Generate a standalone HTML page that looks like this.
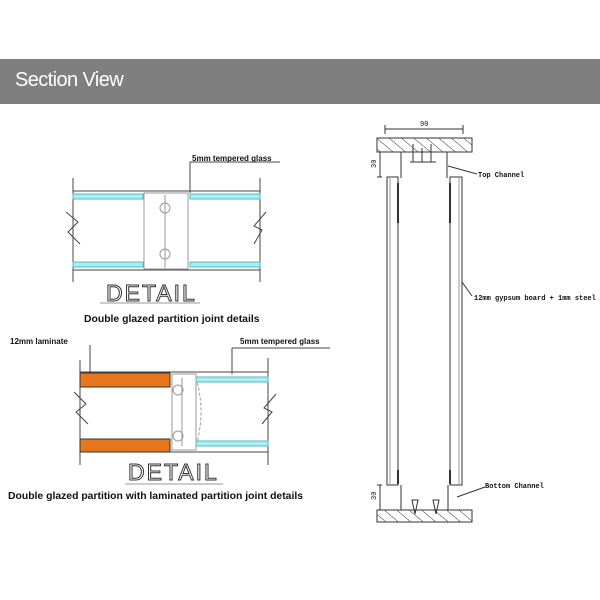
<!DOCTYPE html>
<html><head><meta charset="utf-8"><style>
html,body{margin:0;padding:0;background:#fff;width:600px;height:600px;overflow:hidden;position:relative;font-family:"Liberation Sans",sans-serif}
.band{position:absolute;left:0;top:59px;width:600px;height:45px;background:#7f7f7f}
.band span{position:absolute;left:15px;top:10px;color:#fff;font-size:20px;letter-spacing:-0.6px}
svg{position:absolute;left:0;top:0}
</style></head><body>
<div class="band"><span>Section View</span></div>
<svg width="600" height="600" viewBox="0 0 600 600">
<defs>
<pattern id="h" width="8" height="8" patternUnits="userSpaceOnUse" patternTransform="rotate(-50)">
<line x1="0" y1="0" x2="0" y2="8" stroke="#333" stroke-width="1"/></pattern>
</defs>
<g stroke="#444" fill="none" stroke-width="1">
<line x1="73" y1="178" x2="73" y2="282"/><line x1="260" y1="178" x2="260" y2="282"/>
<line x1="73" y1="191" x2="260" y2="191"/><line x1="73" y1="270" x2="260" y2="270"/>
<path d="M66 212 L78 222 L68 232 L80 244"/><path d="M266 212 L254 226 L262 230 L254 244"/>
<line x1="190" y1="162" x2="190" y2="193"/><line x1="190" y1="162" x2="280" y2="162"/>
<rect x="144" y="193" width="44" height="76" stroke="#999"/>
<line x1="165" y1="195" x2="165" y2="268" stroke="#999"/>
<circle cx="165" cy="208" r="5" stroke="#999"/><circle cx="165" cy="254" r="5" stroke="#999"/>
<line x1="80" y1="360" x2="80" y2="465"/><line x1="268" y1="358" x2="268" y2="465"/>
<line x1="80" y1="372" x2="268" y2="372"/><line x1="80" y1="452" x2="268" y2="452"/>
<path d="M74 392 L86 404 L76 412 L88 424"/><path d="M276 394 L264 408 L272 412 L262 424"/>
<line x1="90" y1="345" x2="90" y2="372"/><line x1="232" y1="348" x2="232" y2="374"/><line x1="232" y1="348" x2="330" y2="348"/>
<rect x="172" y="374" width="24" height="76" stroke="#999"/>
<line x1="182" y1="378" x2="182" y2="446" stroke="#999"/>
<circle cx="178" cy="390" r="5" stroke="#999"/><circle cx="178" cy="436" r="5" stroke="#999"/>
<path d="M196 378 Q206 412 196 446" stroke="#999" stroke-dasharray="3 2"/>
</g>
<g fill="#a8eef4" stroke="#5bb">
<rect x="73" y="194" width="70" height="5"/><rect x="190" y="194" width="70" height="5"/>
<rect x="73" y="262" width="70" height="5"/><rect x="190" y="262" width="70" height="5"/>
<rect x="196" y="377" width="72" height="5"/><rect x="196" y="441" width="72" height="5"/>
</g>
<g fill="#e8761c" stroke="#333">
<rect x="80" y="373" width="90" height="14"/><rect x="80" y="439" width="90" height="13"/>
</g>
<g font-family="Liberation Sans,sans-serif" font-weight="bold" fill="#111">
<text x="192" y="161" font-size="8">5mm tempered glass</text>
<text x="106" y="301" font-size="23" fill="#fff" stroke="#333" stroke-width="1" font-weight="normal" letter-spacing="2">DETAIL</text>
<text x="84" y="322" font-size="10.4">Double glazed partition joint details</text>
<text x="10" y="344" font-size="8">12mm laminate</text>
<text x="240" y="344" font-size="8">5mm tempered glass</text>
<text x="128" y="480" font-size="23" fill="#fff" stroke="#333" stroke-width="1" font-weight="normal" letter-spacing="2">DETAIL</text>
<text x="8" y="499" font-size="10.4">Double glazed partition with laminated partition joint details</text>
</g>
<line x1="100" y1="303" x2="200" y2="303" stroke="#999"/>
<line x1="125" y1="484" x2="223" y2="484" stroke="#999"/>
<g stroke="#333" fill="none" stroke-width="1">
<line x1="385" y1="129" x2="463" y2="129"/><line x1="385" y1="125" x2="385" y2="134"/><line x1="463" y1="125" x2="463" y2="134"/>
<rect x="377" y="138" width="95" height="14" fill="url(#h)"/>
<rect x="377" y="510" width="95" height="12" fill="url(#h)"/>
<line x1="401" y1="152" x2="401" y2="178"/><line x1="447" y1="152" x2="447" y2="178"/>
<line x1="401" y1="485" x2="401" y2="510"/><line x1="448" y1="485" x2="448" y2="510"/>
<rect x="387" y="177" width="11" height="308"/><rect x="450" y="177" width="12" height="308"/>
<line x1="390" y1="178" x2="390" y2="484" stroke="#999"/><line x1="459" y1="178" x2="459" y2="484" stroke="#999"/>
<line x1="380" y1="152" x2="380" y2="177"/><line x1="377" y1="152" x2="382" y2="152"/><line x1="377" y1="177" x2="382" y2="177"/>
<line x1="380" y1="485" x2="380" y2="510"/><line x1="377" y1="485" x2="382" y2="485"/>
<line x1="448" y1="166" x2="477" y2="174"/>
<line x1="462" y1="282" x2="472" y2="296"/>
<line x1="457" y1="497" x2="485" y2="487"/>
<path d="M413 144 v18 M422 148 v14 M431 144 v18 M410 162 h26"/>
<path d="M412 500 l6 0 l-3 14 z M433 500 l6 0 l-3 14 z"/>
<path d="M398 183 v40 M450 183 v40 M398 470 v14 M450 470 v14" stroke-width="2"/>
</g>
<g font-family="Liberation Mono,monospace" font-size="7" fill="#111">
<text x="420" y="126">90</text>
<text x="376" y="168" transform="rotate(-90 376 168)">30</text>
<text x="376" y="500" transform="rotate(-90 376 500)">30</text>
<text x="478" y="177" font-weight="bold">Top Channel</text>
<text x="474" y="300" font-weight="bold">12mm gypsum board + 1mm steel</text>
<text x="485" y="488" font-weight="bold">Bottom Channel</text>
</g>
</svg>
</body></html>
